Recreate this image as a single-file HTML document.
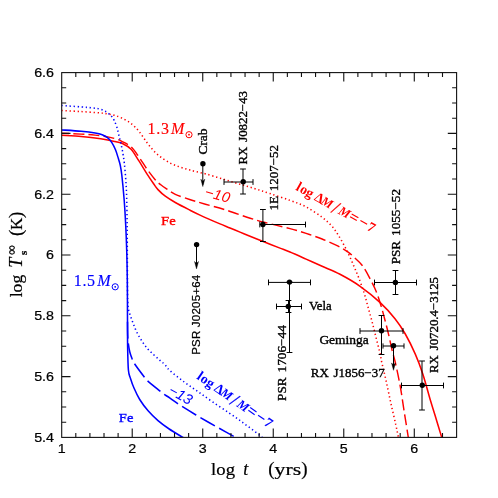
<!DOCTYPE html>
<html><head><meta charset="utf-8"><title>Cooling curves</title>
<style>html,body{margin:0;padding:0;background:#fff;}svg{display:block}svg{font-family:"Liberation Sans",sans-serif;}.tk{font-family:"Liberation Sans",sans-serif;font-size:12.3px;fill:#000;stroke:#000;stroke-width:0.2px;}.ax{font-family:"Liberation Serif",serif;font-size:17px;fill:#000;stroke:#000;stroke-width:0.2px;}.lb{font-family:"Liberation Serif",serif;font-size:12.3px;fill:#000;stroke:#000;stroke-width:0.35px;word-spacing:1.5px;}.sn{font-family:"Liberation Sans",sans-serif;font-size:11.5px;fill:#000;stroke:#000;stroke-width:0.25px;}</style></head><body>
<svg width="498" height="498" viewBox="0 0 498 498" style="will-change:transform">
<rect x="0" y="0" width="498" height="498" fill="#ffffff"/>
<defs><clipPath id="cp"><rect x="61.70" y="72.60" width="394.90" height="364.80"/></clipPath></defs>
<g clip-path="url(#cp)" fill="none" stroke-linecap="butt" stroke-linejoin="round">
<path d="M61.60,135.20 C64.85,135.42 75.52,136.05 81.10,136.50 C86.68,136.95 90.65,137.32 95.10,137.90 C99.55,138.48 104.48,139.38 107.80,140.00 C111.12,140.62 112.47,140.97 115.00,141.60 C117.53,142.23 120.32,142.53 123.00,143.80 C125.68,145.07 128.42,146.30 131.10,149.20 C133.78,152.10 136.43,157.05 139.10,161.20 C141.77,165.35 144.68,170.35 147.10,174.10 C149.52,177.85 151.78,181.12 153.60,183.70 C155.42,186.28 156.05,187.52 158.00,189.60 C159.95,191.68 162.42,194.05 165.30,196.20 C168.18,198.35 171.18,200.17 175.30,202.50 C179.42,204.83 185.88,208.10 190.00,210.20 C194.12,212.30 196.67,213.53 200.00,215.10 C203.33,216.67 206.67,218.13 210.00,219.60 C213.33,221.07 216.67,222.50 220.00,223.90 C223.33,225.30 226.67,226.63 230.00,228.00 C233.33,229.37 236.67,230.73 240.00,232.10 C243.33,233.47 246.67,234.85 250.00,236.20 C253.33,237.55 256.67,238.87 260.00,240.20 C263.33,241.53 266.67,242.88 270.00,244.20 C273.33,245.52 276.67,246.80 280.00,248.10 C283.33,249.40 285.65,250.17 290.00,252.00 C294.35,253.83 300.75,256.72 306.10,259.10 C311.45,261.48 316.45,263.77 322.10,266.30 C327.75,268.83 333.67,270.97 340.00,274.30 C346.33,277.63 353.40,281.58 360.10,286.30 C366.80,291.02 374.35,297.17 380.20,302.60 C386.05,308.03 391.02,313.67 395.20,318.90 C399.38,324.13 401.95,328.13 405.30,334.00 C408.65,339.87 412.38,347.43 415.30,354.10 C418.22,360.77 420.28,366.30 422.80,374.00 C425.32,381.70 428.10,392.57 430.40,400.30 C432.70,408.03 434.72,414.22 436.60,420.40 C438.48,426.58 440.85,434.57 441.70,437.40" stroke="#ff0000" stroke-width="1.55"/>
<path d="M61.60,133.20 C64.85,133.35 75.52,133.78 81.10,134.10 C86.68,134.42 90.65,134.63 95.10,135.10 C99.55,135.57 104.28,136.25 107.80,136.90 C111.32,137.55 113.93,138.28 116.20,139.00 C118.47,139.72 118.92,139.90 121.40,141.20 C123.88,142.50 128.15,144.13 131.10,146.80 C134.05,149.47 136.43,153.45 139.10,157.20 C141.77,160.95 144.42,165.55 147.10,169.30 C149.78,173.05 152.92,177.12 155.20,179.70 C157.48,182.28 158.92,183.28 160.80,184.80 C162.68,186.32 164.08,187.22 166.50,188.80 C168.92,190.38 171.32,192.48 175.30,194.30 C179.28,196.12 185.38,198.05 190.40,199.70 C195.42,201.35 199.62,202.52 205.40,204.20 C211.18,205.88 217.63,207.47 225.10,209.80 C232.57,212.13 243.53,216.08 250.20,218.20 C256.87,220.32 258.47,220.77 265.10,222.50 C271.73,224.23 283.17,226.78 290.00,228.60 C296.83,230.42 300.75,231.67 306.10,233.40 C311.45,235.13 316.75,236.87 322.10,239.00 C327.45,241.13 333.92,244.07 338.20,246.20 C342.48,248.33 345.12,249.92 347.80,251.80 C350.48,253.68 351.88,255.22 354.30,257.50 C356.72,259.78 359.75,262.10 362.30,265.50 C364.85,268.90 367.30,273.62 369.60,277.90 C371.90,282.18 374.20,286.57 376.10,291.20 C378.00,295.83 379.52,300.87 381.00,305.70 C382.48,310.53 383.67,315.12 385.00,320.20 C386.33,325.28 387.80,331.12 389.00,336.20 C390.20,341.28 391.17,346.40 392.20,350.70 C393.23,355.00 393.87,356.12 395.20,362.00 C396.53,367.88 398.73,377.95 400.20,386.00 C401.67,394.05 402.65,401.73 404.00,410.30 C405.35,418.87 407.58,432.88 408.30,437.40" stroke="#ff0000" stroke-width="1.45" stroke-dasharray="10.9,4.23" stroke-dashoffset="3.4"/>
<path d="M61.60,110.50 C64.67,110.67 73.60,111.10 80.00,111.50 C86.40,111.90 95.37,112.48 100.00,112.90 C104.63,113.32 105.30,113.58 107.80,114.00 C110.30,114.42 112.47,114.62 115.00,115.40 C117.53,116.18 120.32,117.35 123.00,118.70 C125.68,120.05 128.42,121.37 131.10,123.50 C133.78,125.63 136.43,128.28 139.10,131.50 C141.77,134.72 144.42,139.32 147.10,142.80 C149.78,146.28 152.52,149.73 155.20,152.40 C157.88,155.07 160.53,156.93 163.20,158.80 C165.87,160.67 168.52,162.27 171.20,163.60 C173.88,164.93 176.62,165.85 179.30,166.80 C181.98,167.75 184.68,168.53 187.30,169.30 C189.92,170.07 191.87,170.62 195.00,171.40 C198.13,172.18 201.58,172.77 206.10,174.00 C210.62,175.23 216.75,177.18 222.10,178.80 C227.45,180.42 232.83,182.08 238.20,183.70 C243.57,185.32 249.00,186.85 254.30,188.50 C259.60,190.15 264.05,191.62 270.00,193.60 C275.95,195.58 283.98,198.18 290.00,200.40 C296.02,202.62 300.75,204.08 306.10,206.90 C311.45,209.72 317.82,214.10 322.10,217.30 C326.38,220.50 329.12,223.15 331.80,226.10 C334.48,229.05 336.07,231.65 338.20,235.00 C340.33,238.35 342.73,242.72 344.60,246.20 C346.47,249.68 347.78,252.42 349.40,255.90 C351.02,259.38 352.73,263.42 354.30,267.10 C355.87,270.78 357.17,273.70 358.80,278.00 C360.43,282.30 362.55,288.02 364.10,292.90 C365.65,297.78 366.77,302.48 368.10,307.30 C369.43,312.12 370.77,316.72 372.10,321.80 C373.43,326.88 374.75,332.45 376.10,337.80 C377.45,343.15 379.28,349.93 380.20,353.90 C381.12,357.87 380.62,357.10 381.60,361.60 C382.58,366.10 384.55,373.93 386.10,380.90 C387.65,387.87 389.30,396.17 390.90,403.40 C392.50,410.63 394.45,418.63 395.70,424.30 C396.95,429.97 397.95,435.22 398.40,437.40" stroke="#ff0000" stroke-width="1.55" stroke-dasharray="1.3,2.7"/>
<path d="M61.60,129.90 C64.85,130.13 75.52,130.78 81.10,131.30 C86.68,131.82 91.58,132.42 95.10,133.00 C98.62,133.58 100.08,133.98 102.20,134.80 C104.32,135.62 106.17,136.57 107.80,137.90 C109.43,139.23 110.72,140.82 112.00,142.80 C113.28,144.78 114.45,147.22 115.50,149.80 C116.55,152.38 117.52,155.77 118.30,158.30 C119.08,160.83 119.62,162.22 120.20,165.00 C120.78,167.78 121.13,169.12 121.80,175.00 C122.47,180.88 123.55,191.97 124.20,200.30 C124.85,208.63 125.28,216.72 125.70,225.00 C126.12,233.28 126.43,240.83 126.70,250.00 C126.97,259.17 127.17,268.33 127.30,280.00 C127.43,291.67 127.45,309.15 127.50,320.00 C127.55,330.85 127.45,336.77 127.60,345.10 C127.75,353.43 127.92,364.45 128.40,370.00 C128.88,375.55 129.55,375.35 130.50,378.40 C131.45,381.45 132.57,384.78 134.10,388.30 C135.63,391.82 137.37,395.75 139.70,399.50 C142.03,403.25 145.05,407.28 148.10,410.80 C151.15,414.32 154.48,417.57 158.00,420.60 C161.52,423.63 165.22,426.30 169.20,429.00 C173.18,431.70 179.62,435.40 181.90,436.80 C184.18,438.20 182.73,437.30 182.90,437.40" stroke="#0000ff" stroke-width="1.55"/>
<path d="M127.50,320.00 C127.53,322.50 127.55,330.97 127.70,335.00 C127.85,339.03 128.05,341.37 128.40,344.20 C128.75,347.03 129.22,349.65 129.80,352.00 C130.38,354.35 131.18,356.45 131.90,358.30 C132.62,360.15 132.10,360.07 134.10,363.10 C136.10,366.13 141.68,373.57 143.90,376.50 C146.12,379.43 144.70,378.25 147.40,380.70 C150.10,383.15 157.40,388.98 160.10,391.20 C162.80,393.42 161.95,392.85 163.60,394.00 C165.25,395.15 167.65,396.48 170.00,398.10 C172.35,399.72 175.72,402.33 177.70,403.70 C179.68,405.07 178.85,404.42 181.90,406.30 C184.95,408.18 192.95,413.13 196.00,415.00 C199.05,416.87 197.03,415.68 200.20,417.50 C203.37,419.32 211.83,424.10 215.00,425.90 C218.17,427.70 216.15,426.60 219.20,428.30 C222.25,430.00 230.57,434.58 233.30,436.10 C236.03,437.62 235.22,437.18 235.60,437.40" stroke="#0000ff" stroke-width="1.55" stroke-dasharray="16.5,5" stroke-dashoffset="-2.0"/>
<path d="M61.60,105.50 C64.85,105.73 75.98,106.50 81.10,106.90 C86.22,107.30 89.18,107.53 92.30,107.90 C95.42,108.27 97.45,108.43 99.80,109.10 C102.15,109.77 104.48,110.73 106.40,111.90 C108.32,113.07 110.02,114.70 111.30,116.10 C112.58,117.50 113.17,118.43 114.10,120.30 C115.03,122.17 116.08,124.72 116.90,127.30 C117.72,129.88 118.30,132.98 119.00,135.80 C119.70,138.62 120.43,141.17 121.10,144.20 C121.77,147.23 122.45,150.72 123.00,154.00 C123.55,157.28 123.93,159.57 124.40,163.90 C124.87,168.23 125.43,174.77 125.80,180.00 C126.17,185.23 126.38,188.57 126.60,195.30 C126.82,202.03 126.98,212.12 127.10,220.40 C127.22,228.68 127.23,233.40 127.30,245.00 C127.37,256.60 127.42,280.50 127.50,290.00 C127.58,299.50 127.65,298.83 127.80,302.00 C127.95,305.17 127.95,306.65 128.40,309.00 C128.85,311.35 129.68,313.63 130.50,316.10 C131.32,318.57 132.25,321.12 133.30,323.80 C134.35,326.48 135.40,329.38 136.80,332.20 C138.20,335.02 139.95,338.00 141.70,340.70 C143.45,343.40 145.30,346.07 147.30,348.40 C149.30,350.73 151.58,352.70 153.70,354.70 C155.82,356.70 158.13,358.75 160.00,360.40 C161.87,362.05 163.23,362.88 164.90,364.60 C166.57,366.32 166.80,367.82 170.00,370.70 C173.20,373.58 179.42,378.38 184.10,381.90 C188.78,385.42 193.42,388.52 198.10,391.80 C202.78,395.08 207.03,398.07 212.20,401.60 C217.37,405.13 223.95,409.47 229.10,413.00 C234.25,416.53 238.42,419.42 243.10,422.80 C247.78,426.18 254.02,430.87 257.20,433.30 C260.38,435.73 261.37,436.72 262.20,437.40" stroke="#0000ff" stroke-width="1.55" stroke-dasharray="1.3,2.7"/>
</g>
<g stroke="#111" stroke-width="1.1" fill="none" stroke-linecap="butt">
<rect x="61.70" y="72.60" width="394.90" height="364.80"/>
<path d="M75.80,437.40v-4.50M75.80,72.60v4.50M89.91,437.40v-4.50M89.91,72.60v4.50M104.01,437.40v-4.50M104.01,72.60v4.50M118.11,437.40v-4.50M118.11,72.60v4.50M132.22,437.40v-8.80M132.22,72.60v8.80M146.32,437.40v-4.50M146.32,72.60v4.50M160.43,437.40v-4.50M160.43,72.60v4.50M174.53,437.40v-4.50M174.53,72.60v4.50M188.63,437.40v-4.50M188.63,72.60v4.50M202.74,437.40v-8.80M202.74,72.60v8.80M216.84,437.40v-4.50M216.84,72.60v4.50M230.94,437.40v-4.50M230.94,72.60v4.50M245.05,437.40v-4.50M245.05,72.60v4.50M259.15,437.40v-4.50M259.15,72.60v4.50M273.25,437.40v-8.80M273.25,72.60v8.80M287.36,437.40v-4.50M287.36,72.60v4.50M301.46,437.40v-4.50M301.46,72.60v4.50M315.56,437.40v-4.50M315.56,72.60v4.50M329.67,437.40v-4.50M329.67,72.60v4.50M343.77,437.40v-8.80M343.77,72.60v8.80M357.88,437.40v-4.50M357.88,72.60v4.50M371.98,437.40v-4.50M371.98,72.60v4.50M386.08,437.40v-4.50M386.08,72.60v4.50M400.19,437.40v-4.50M400.19,72.60v4.50M414.29,437.40v-8.80M414.29,72.60v8.80M428.39,437.40v-4.50M428.39,72.60v4.50M442.50,437.40v-4.50M442.50,72.60v4.50M61.70,422.20h4.50M456.60,422.20h-4.50M61.70,407.00h4.50M456.60,407.00h-4.50M61.70,391.80h4.50M456.60,391.80h-4.50M61.70,376.60h8.80M456.60,376.60h-8.80M61.70,361.40h4.50M456.60,361.40h-4.50M61.70,346.20h4.50M456.60,346.20h-4.50M61.70,331.00h4.50M456.60,331.00h-4.50M61.70,315.80h8.80M456.60,315.80h-8.80M61.70,300.60h4.50M456.60,300.60h-4.50M61.70,285.40h4.50M456.60,285.40h-4.50M61.70,270.20h4.50M456.60,270.20h-4.50M61.70,255.00h8.80M456.60,255.00h-8.80M61.70,239.80h4.50M456.60,239.80h-4.50M61.70,224.60h4.50M456.60,224.60h-4.50M61.70,209.40h4.50M456.60,209.40h-4.50M61.70,194.20h8.80M456.60,194.20h-8.80M61.70,179.00h4.50M456.60,179.00h-4.50M61.70,163.80h4.50M456.60,163.80h-4.50M61.70,148.60h4.50M456.60,148.60h-4.50M61.70,133.40h8.80M456.60,133.40h-8.80M61.70,118.20h4.50M456.60,118.20h-4.50M61.70,103.00h4.50M456.60,103.00h-4.50M61.70,87.80h4.50M456.60,87.80h-4.50"/>
</g>
<text class="tk" transform="translate(61.70,453.2) scale(1.16,1)" x="0" y="0" text-anchor="middle">1</text>
<text class="tk" transform="translate(132.22,453.2) scale(1.16,1)" x="0" y="0" text-anchor="middle">2</text>
<text class="tk" transform="translate(202.74,453.2) scale(1.16,1)" x="0" y="0" text-anchor="middle">3</text>
<text class="tk" transform="translate(273.25,453.2) scale(1.16,1)" x="0" y="0" text-anchor="middle">4</text>
<text class="tk" transform="translate(343.77,453.2) scale(1.16,1)" x="0" y="0" text-anchor="middle">5</text>
<text class="tk" transform="translate(414.29,453.2) scale(1.16,1)" x="0" y="0" text-anchor="middle">6</text>
<text class="tk" transform="translate(54.0,77.00) scale(1.16,1)" x="0" y="0" text-anchor="end">6.6</text>
<text class="tk" transform="translate(54.0,137.80) scale(1.16,1)" x="0" y="0" text-anchor="end">6.4</text>
<text class="tk" transform="translate(54.0,198.60) scale(1.16,1)" x="0" y="0" text-anchor="end">6.2</text>
<text class="tk" transform="translate(54.0,259.40) scale(1.16,1)" x="0" y="0" text-anchor="end">6</text>
<text class="tk" transform="translate(54.0,320.20) scale(1.16,1)" x="0" y="0" text-anchor="end">5.8</text>
<text class="tk" transform="translate(54.0,381.00) scale(1.16,1)" x="0" y="0" text-anchor="end">5.6</text>
<text class="tk" transform="translate(54.0,441.80) scale(1.16,1)" x="0" y="0" text-anchor="end">5.4</text>
<g class="ax">
<text x="211.1" y="475" textLength="23.9" lengthAdjust="spacingAndGlyphs">log</text>
<text x="243.2" y="475" font-style="italic" font-size="18px">t</text>
<text x="268.2" y="474.6" font-size="19px">(</text>
<text x="274.6" y="475" textLength="26.6" lengthAdjust="spacingAndGlyphs">yrs</text>
<text x="301.2" y="474.6" font-size="19px">)</text>
</g>
<g class="ax" transform="translate(22.1,297.3) rotate(-90)">
<text x="0" y="0" textLength="22.6" lengthAdjust="spacingAndGlyphs">log</text>
<text x="29.6" y="0" font-style="italic" font-size="18px">T</text>
<text x="42.3" y="4.9" font-size="11px" font-weight="bold">s</text>
<text x="42.6" y="-6.6" font-size="13.5px" stroke-width="0.35">&#8734;</text>
<text x="61.4" y="-0.4" font-size="19px">(</text>
<text x="67.2" y="0">K</text>
<text x="79.2" y="-0.4" font-size="19px">)</text>
</g>
<path d="M202.80,163.80V184.60" stroke="#000" stroke-width="1" fill="none"/><path d="M202.80,186.60l-2,-7.4l2,2l2,-2z" fill="#000" stroke="#000" stroke-width="0.4"/>
<circle cx="202.90" cy="163.80" r="2.7" fill="#000"/>
<path d="M224.00,182.00H253.00M224.00,179.10v5.80M253.00,179.10v5.80M243.00,169.00V194.00M240.10,169.00h5.80M240.10,194.00h5.80" stroke="#000" stroke-width="1.00" fill="none"/><circle cx="243.20" cy="181.80" r="2.7" fill="#000"/>
<path d="M259.80,224.50H305.50M259.80,221.60v5.80M305.50,221.60v5.80M262.90,209.50V241.50M260.00,209.50h5.80M260.00,241.50h5.80" stroke="#000" stroke-width="1.00" fill="none"/><circle cx="262.90" cy="224.50" r="2.7" fill="#000"/>
<path d="M196.50,244.60V266.90" stroke="#000" stroke-width="1" fill="none"/><path d="M196.50,268.90l-2,-7.4l2,2l2,-2z" fill="#000" stroke="#000" stroke-width="0.4"/>
<circle cx="196.60" cy="244.60" r="2.7" fill="#000"/>
<path d="M268.50,282.40H310.50M268.50,279.50v5.80M310.50,279.50v5.80M289.50,282.00V352.50M286.60,282.00h5.80M286.60,352.50h5.80" stroke="#000" stroke-width="1.00" fill="none"/><circle cx="289.50" cy="282.10" r="2.7" fill="#000"/>
<path d="M276.50,306.50H301.50M276.50,303.60v5.80M301.50,303.60v5.80M288.50,300.50V312.50M285.60,300.50h5.80M285.60,312.50h5.80" stroke="#000" stroke-width="1.00" fill="none"/><circle cx="288.30" cy="306.40" r="2.7" fill="#000"/>
<path d="M374.50,282.50H416.50M374.50,279.60v5.80M416.50,279.60v5.80M395.50,270.50V294.50M392.60,270.50h5.80M392.60,294.50h5.80" stroke="#000" stroke-width="1.00" fill="none"/><circle cx="395.40" cy="282.40" r="2.7" fill="#000"/>
<path d="M360.00,331.00H403.00M360.00,328.10v5.80M403.00,328.10v5.80M381.50,315.50V354.50M378.60,315.50h5.80M378.60,354.50h5.80" stroke="#000" stroke-width="1.00" fill="none"/><circle cx="381.50" cy="330.80" r="2.7" fill="#000"/>
<path d="M393.50,345.80V368.30" stroke="#000" stroke-width="1" fill="none"/><path d="M393.50,370.30l-2,-7.4l2,2l2,-2z" fill="#000" stroke="#000" stroke-width="0.4"/>
<path d="M383.00,346.00H404.00M383.00,343.40v5.20M404.00,343.40v5.20" stroke="#000" stroke-width="1.00" fill="none"/><circle cx="393.50" cy="345.80" r="2.7" fill="#000"/>
<path d="M401.50,385.50H443.50M401.50,382.60v5.80M443.50,382.60v5.80M422.00,361.00V410.00M419.10,361.00h5.80M419.10,410.00h5.80" stroke="#000" stroke-width="1.00" fill="none"/><circle cx="422.30" cy="385.20" r="2.7" fill="#000"/>
<g transform="translate(207.30,154.50) rotate(-90)"><text class="lb" x="0" y="0" textLength="26.0" lengthAdjust="spacingAndGlyphs" xml:space="preserve">Crab</text></g>
<g transform="translate(247.30,164.50) rotate(-90)"><text class="lb" x="0" y="0" textLength="73.5" lengthAdjust="spacingAndGlyphs" xml:space="preserve">RX J0822&#8722;43</text></g>
<g transform="translate(278.30,210.50) rotate(-90)"><text class="lb" x="0" y="0" textLength="65.5" lengthAdjust="spacingAndGlyphs" xml:space="preserve">1E 1207&#8722;52</text></g>
<g transform="translate(399.60,264.30) rotate(-90)"><text class="lb" x="0" y="0" textLength="75.3" lengthAdjust="spacingAndGlyphs" xml:space="preserve">PSR 1055&#8722;52</text></g>
<g transform="translate(285.80,401.00) rotate(-90)"><text class="lb" x="0" y="0" textLength="75.8" lengthAdjust="spacingAndGlyphs" xml:space="preserve">PSR 1706&#8722;44</text></g>
<g transform="translate(438.40,373.00) rotate(-90)"><text class="lb" x="0" y="0" textLength="96.0" lengthAdjust="spacingAndGlyphs" xml:space="preserve">RX J0720.4&#8722;3125</text></g>
<g transform="translate(199.90,354.80) rotate(-90)"><text class="sn" x="0" y="0" textLength="80.0" lengthAdjust="spacing" xml:space="preserve">PSR J0205+64</text></g>
<text class="lb" x="309.00" y="309.60" text-anchor="start" textLength="22.7" lengthAdjust="spacingAndGlyphs" xml:space="preserve" >Vela</text>
<text class="lb" x="319.40" y="343.60" text-anchor="start" textLength="49.4" lengthAdjust="spacingAndGlyphs" xml:space="preserve" >Geminga</text>
<text class="lb" x="310.80" y="376.80" text-anchor="start" textLength="73.8" lengthAdjust="spacingAndGlyphs" xml:space="preserve" >RX J1856&#8722;37</text>
<text class="lb" x="161.10" y="224.70" text-anchor="start" textLength="14.7" lengthAdjust="spacingAndGlyphs" xml:space="preserve" style="fill:#ff0000;stroke:#ff0000;font-size:13.3px">Fe</text>
<text class="lb" x="118.80" y="422.30" text-anchor="start" textLength="14.6" lengthAdjust="spacingAndGlyphs" xml:space="preserve" style="fill:#0000ff;stroke:#0000ff;font-size:13.3px">Fe</text>
<text x="147.50" y="133.50" style="font-family:'Liberation Serif',serif;font-size:16px;fill:#ff0000;stroke:#ff0000;stroke-width:0.15px" xml:space="preserve" textLength="36.9" lengthAdjust="spacing">1.3<tspan dx="1.5" font-style="italic">M</tspan></text><circle cx="189.00" cy="134.70" r="3.1" fill="none" stroke="#ff0000" stroke-width="1"/><circle cx="189.00" cy="134.70" r="0.9" fill="#ff0000"/>
<text x="73.70" y="285.60" style="font-family:'Liberation Serif',serif;font-size:16px;fill:#0000ff;stroke:#0000ff;stroke-width:0.15px" xml:space="preserve" textLength="36.9" lengthAdjust="spacing">1.5<tspan dx="1.5" font-style="italic">M</tspan></text><circle cx="115.20" cy="286.80" r="3.1" fill="none" stroke="#0000ff" stroke-width="1"/><circle cx="115.20" cy="286.80" r="0.9" fill="#0000ff"/>
<g transform="translate(204.0,196.3) rotate(15)"><text x="0" y="0" textLength="25.5" style="font-family:'Liberation Sans',sans-serif;font-style:italic;font-size:14.5px;fill:#ff0000">&#8722;10</text></g>
<g transform="translate(167.6,393.2) rotate(29)"><text x="0" y="0" style="font-family:'Liberation Sans',sans-serif;font-style:italic;font-size:14.5px;fill:#0000ff">&#8722;13</text></g>
<g transform="translate(294.50,189.30) rotate(29.2)" style="font-family:'Liberation Serif',serif;font-weight:bold;fill:#ff0000"><text x="0.58" y="0" font-size="13.8px">l</text><text x="5.05" y="0" font-size="13.8px">o</text><text x="11.85" y="0" font-size="13.8px">g</text><text x="21.67" y="0" font-size="13.8px">&#916;</text><text x="29.12" y="0" font-size="13.0px" font-style="italic">M</text><text x="42.36" y="2.2" font-size="19.0px" font-weight="normal" stroke="#ff0000" stroke-width="0.3">/</text><text x="49.22" y="0" font-size="13.0px" font-style="italic">M</text><text x="61.10" y="0.6" font-size="16.5px">=</text><text x="71.80" y="0.6" font-size="16.5px">&#8722;</text><text x="82.25" y="0" font-size="13.8px">7</text></g>
<g transform="translate(195.40,378.00) rotate(34.5)" style="font-family:'Liberation Serif',serif;font-weight:bold;fill:#0000ff"><text x="0.58" y="0" font-size="13.8px">l</text><text x="5.05" y="0" font-size="13.8px">o</text><text x="11.85" y="0" font-size="13.8px">g</text><text x="21.67" y="0" font-size="13.8px">&#916;</text><text x="29.12" y="0" font-size="13.0px" font-style="italic">M</text><text x="42.36" y="2.2" font-size="19.0px" font-weight="normal" stroke="#0000ff" stroke-width="0.3">/</text><text x="49.22" y="0" font-size="13.0px" font-style="italic">M</text><text x="61.10" y="0.6" font-size="16.5px">=</text><text x="71.80" y="0.6" font-size="16.5px">&#8722;</text><text x="82.25" y="0" font-size="13.8px">7</text></g>
</svg></body></html>
